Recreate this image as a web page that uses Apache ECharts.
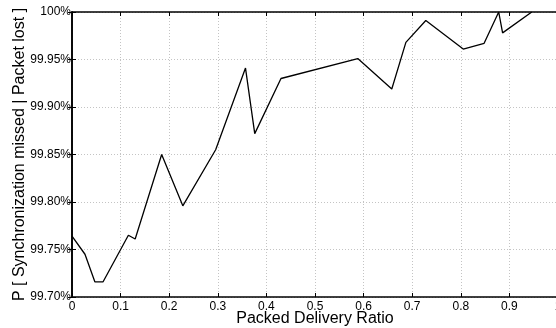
<!DOCTYPE html>
<html>
<head>
<meta charset="utf-8">
<script src="https://cdn.jsdelivr.net/npm/echarts@6/dist/echarts.min.js"></script>
<style>
html,body{margin:0;padding:0;background:#fff;}
#c{width:556px;height:328px;}
</style>
</head>
<body>
<div id="c"></div>
<script>
const deliveryRatio = [0, 0.0267, 0.047, 0.064, 0.116, 0.130, 0.1845, 0.228, 0.2956, 0.357, 0.376, 0.430, 0.588, 0.658, 0.687, 0.728, 0.805, 0.848, 0.878, 0.886, 0.946];
const probPercent = [99.764, 99.745, 99.716, 99.716, 99.765, 99.761, 99.850, 99.796, 99.855, 99.941, 99.872, 99.930, 99.951, 99.919, 99.968, 99.991, 99.961, 99.967, 100.0, 99.978, 100.0];
const xTicks = [0, 0.1, 0.2, 0.3, 0.4, 0.5, 0.6, 0.7, 0.8, 0.9, 1];
const yTicks = ['99.70%', '99.75%', '99.80%', '99.85%', '99.90%', '99.95%', '100%'];

const font = '"Liberation Sans", Arial, Helvetica, sans-serif';
const chart = echarts.init(document.getElementById('c'));
const axisLine = {show: true, lineStyle: {color: '#000', width: 1.6}};
const tick = {show: true, inside: true, length: 4, lineStyle: {color: '#000', width: 1}};
const grid = {show: true, lineStyle: {color: '#c4c4c4', type: [1, 2], width: 1}};
chart.setOption({
  animation: false,
  grid: {left: 72, top: 12, width: 486, height: 285, containLabel: false, outerBoundsMode: 'none'},
  xAxis: [{
    type: 'value', min: 0, max: 1, interval: 0.1, position: 'bottom',
    axisLine: axisLine, axisTick: tick, splitLine: grid,
    axisLabel: {color: '#000', fontFamily: font, fontSize: 12, margin: 4, hideOverlap: false,
      formatter: v => { const i = Math.round(v * 10); return String(xTicks[i]); }},
    name: 'Packed Delivery Ratio', nameLocation: 'middle', nameGap: 14, nameMoveOverlap: false,
    nameTextStyle: {color: '#000', fontFamily: font, fontSize: 16}
  }, {
    type: 'value', min: 0, max: 1, interval: 0.1, position: 'top',
    axisLine: axisLine, axisTick: tick, splitLine: {show: false}, axisLabel: {show: false}
  }],
  yAxis: [{
    type: 'value', min: 99.70, max: 100, interval: 0.05, position: 'left',
    axisLine: axisLine, axisTick: tick, splitLine: grid,
    axisLabel: {color: '#000', fontFamily: font, fontSize: 12, margin: 1, hideOverlap: false,
      formatter: v => { const i = Math.round((v - 99.7) / 0.05); return yTicks[i]; }},
    name: 'P [ Synchronization missed | Packet lost ]', nameLocation: 'middle', nameGap: 44, nameMoveOverlap: false,
    nameTextStyle: {color: '#000', fontFamily: font, fontSize: 16}
  }, {
    type: 'value', min: 99.70, max: 100, interval: 0.05, position: 'right',
    axisLine: axisLine, axisTick: tick, splitLine: {show: false}, axisLabel: {show: false}
  }],
  series: [{
    type: 'line', xAxisIndex: 0, yAxisIndex: 0,
    data: deliveryRatio.map((x, i) => [x, probPercent[i]]),
    showSymbol: false, symbol: 'none',
    lineStyle: {color: '#000', width: 1.3}
  }]
});
</script>
</body>
</html>
